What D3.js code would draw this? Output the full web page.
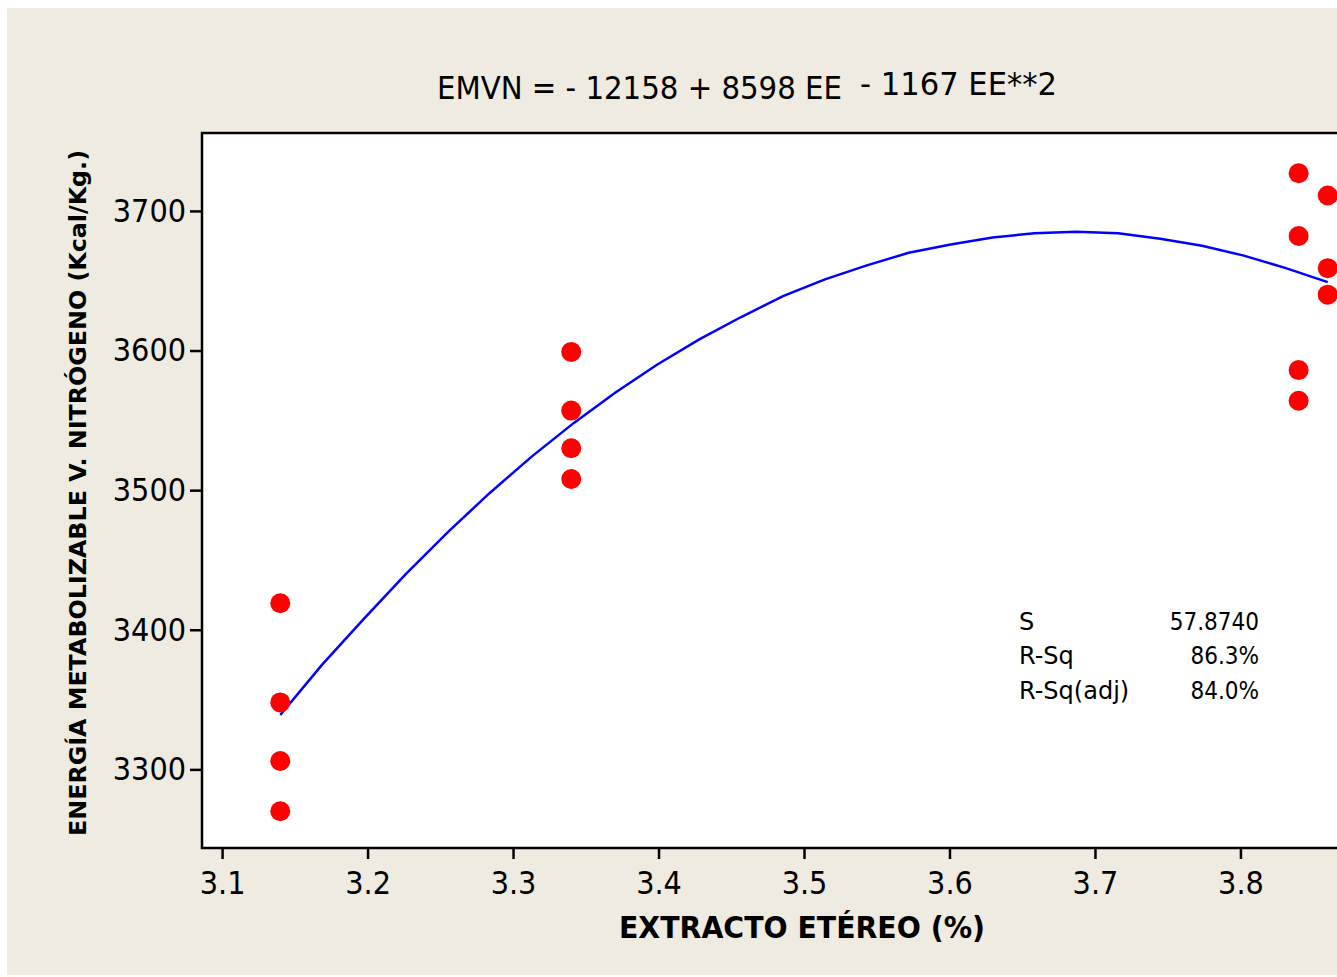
<!DOCTYPE html>
<html>
<head>
<meta charset="utf-8">
<script src="https://cdnjs.cloudflare.com/ajax/libs/d3/7.8.5/d3.min.js"></script>
<style>
  body { margin: 0; background: #ffffff; }
  svg { display: block; }
  text { font-family: "DejaVu Sans Condensed", "DejaVu Sans", sans-serif; fill: #000; }
</style>
</head>
<body>
<script>
//==========================================================================//
//  DATA
//==========================================================================//

// observed points (EE %, EMVN kcal/kg)
var eeVals   = [3.14, 3.14, 3.14, 3.14,
                3.34, 3.34, 3.34, 3.34,
                3.84, 3.84, 3.84, 3.84,
                3.86, 3.86, 3.86];
var emvnVals = [3419, 3348, 3306, 3270,
                3599, 3557, 3530, 3508,
                3727, 3682, 3586, 3564,
                3711, 3659, 3640];

// fitted line vertices
var fitX = [3.1400, 3.1688, 3.1976, 3.2264, 3.2552, 3.2840, 3.3128, 3.3416, 3.3704,
            3.3992, 3.4280, 3.4568, 3.4856, 3.5144, 3.5432, 3.5720, 3.6008, 3.6296,
            3.6584, 3.6872, 3.7160, 3.7448, 3.7736, 3.8024, 3.8312, 3.8600];
var fitY = [3339, 3375, 3408, 3440, 3470, 3498, 3524, 3548, 3570,
            3590, 3608, 3624, 3639, 3651, 3661, 3670, 3676, 3681,
            3684, 3685, 3684, 3680, 3675, 3668, 3659, 3649];

var xTicks = [3.1, 3.2, 3.3, 3.4, 3.5, 3.6, 3.7, 3.8];
var yTicks = [3300, 3400, 3500, 3600, 3700];

var statNames  = ["S", "R-Sq", "R-Sq(adj)"];
var statValues = ["57.8740", "86.3%", "84.0%"];

//==========================================================================//
//  SVG + SCALES
//==========================================================================//

var W = 1337, H = 977;
var plot = {left: 202, top: 133, right: 1406, bottom: 848};

var svg = d3.select("body")
    .append("svg")
    .attr("width", W)
    .attr("height", H);

// beige page
svg.append("rect")
    .attr("x", 7).attr("y", 8)
    .attr("width", W - 7).attr("height", H - 10)
    .attr("fill", "#EFEBE1");

var x = d3.scaleLinear()
    .domain([3.0862, 3.9138])
    .range([plot.left, plot.right]);

var y = d3.scaleLinear()
    .domain([3243.7, 3755.8])
    .range([plot.bottom, plot.top]);

// white plot area with frame
svg.append("rect")
    .attr("x", plot.left).attr("y", plot.top)
    .attr("width", plot.right - plot.left)
    .attr("height", plot.bottom - plot.top)
    .attr("fill", "#ffffff")
    .attr("stroke", "#000")
    .attr("stroke-width", 2.5);

//==========================================================================//
//  AXES
//==========================================================================//

var xAxis = svg.append("g")
    .attr("transform", "translate(0," + (plot.bottom + 1) + ")")
    .call(d3.axisBottom(x).tickValues(xTicks).tickSize(10).tickSizeOuter(0).tickPadding(12)
          .tickFormat(d3.format(".1f")));
xAxis.select(".domain").remove();
xAxis.selectAll("line").attr("stroke", "#000").attr("stroke-width", 2.5);
xAxis.selectAll("text")
    .style("font-size", "32px")
    .style("font-family", "'DejaVu Sans Condensed', 'DejaVu Sans', sans-serif");

var yAxis = svg.append("g")
    .attr("transform", "translate(" + (plot.left - 1) + ",0)")
    .call(d3.axisLeft(y).tickValues(yTicks).tickSize(11).tickSizeOuter(0).tickPadding(4)
          .tickFormat(d3.format("d")));
yAxis.select(".domain").remove();
yAxis.selectAll("line").attr("stroke", "#000").attr("stroke-width", 2.5);
yAxis.selectAll("text")
    .style("font-size", "32px")
    .style("font-family", "'DejaVu Sans Condensed', 'DejaVu Sans', sans-serif");

//==========================================================================//
//  MARKS
//==========================================================================//

var line = d3.line()
    .x(function(d, i) { return x(fitX[i]); })
    .y(function(d) { return y(d); });

svg.append("path")
    .datum(fitY)
    .attr("d", line)
    .attr("fill", "none")
    .attr("stroke", "#0000FF")
    .attr("stroke-width", 2.5);

svg.selectAll("circle.pt")
    .data(emvnVals)
    .join("circle")
    .attr("class", "pt")
    .attr("cx", function(d, i) { return x(eeVals[i]); })
    .attr("cy", function(d) { return y(d); })
    .attr("r", 10)
    .attr("fill", "#FF0000");

//==========================================================================//
//  TEXT
//==========================================================================//

// regression equation, second half sits a bit higher
svg.append("text")
    .attr("x", 437).attr("y", 99)
    .attr("textLength", 405).attr("lengthAdjust", "spacingAndGlyphs")
    .style("font-size", "32px")
    .text("EMVN =  - 12158 + 8598 EE");
svg.append("text")
    .attr("x", 860).attr("y", 95)
    .attr("textLength", 197).attr("lengthAdjust", "spacingAndGlyphs")
    .style("font-size", "32px")
    .text("- 1167 EE**2");

// axis titles
svg.append("text")
    .attr("x", 802).attr("y", 938)
    .attr("text-anchor", "middle")
    .attr("textLength", 366).attr("lengthAdjust", "spacingAndGlyphs")
    .style("font-size", "31px")
    .style("font-weight", "bold")
    .text("EXTRACTO ETÉREO (%)");

svg.append("text")
    .attr("transform", "translate(86,493) rotate(-90)")
    .attr("text-anchor", "middle")
    .attr("textLength", 686).attr("lengthAdjust", "spacingAndGlyphs")
    .style("font-size", "23px")
    .style("font-weight", "bold")
    .style("font-family", "'DejaVu Sans', sans-serif")
    .text("ENERGÍA METABOLIZABLE V. NITRÓGENO (Kcal/Kg.)");

// fit statistics
var statRows = [630, 664, 699];
statNames.forEach(function(n, i) {
    svg.append("text")
        .attr("x", 1019).attr("y", statRows[i])
        .style("font-size", "24px")
        .style("font-family", "'DejaVu Sans', sans-serif")
        .text(n);
    svg.append("text")
        .attr("x", 1259).attr("y", statRows[i])
        .attr("text-anchor", "end")
        .style("font-size", "24px")
        .text(statValues[i]);
});
</script>
</body>
</html>
